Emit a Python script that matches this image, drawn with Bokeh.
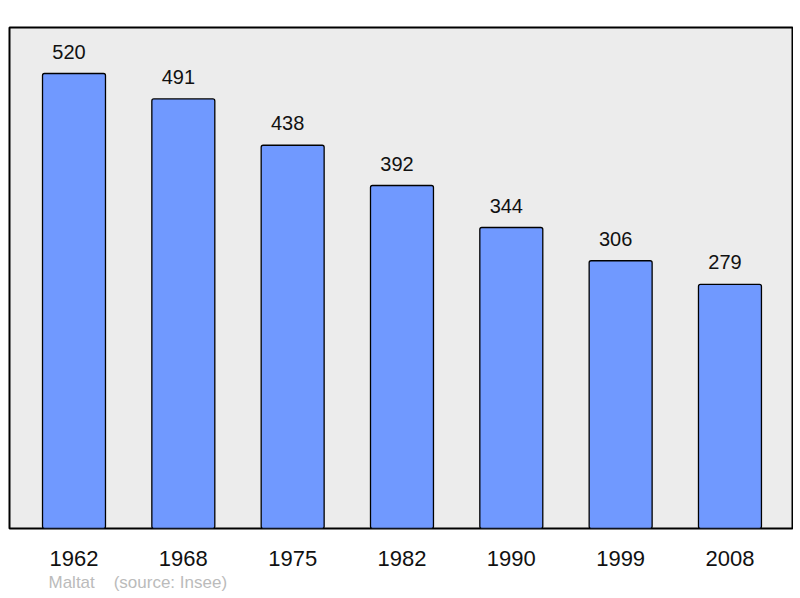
from bokeh.plotting import figure
from bokeh.models import ColumnDataSource, Range1d, FixedTicker, LinearAxis, Title
from bokeh.core.properties import value
from bokeh.embed import file_html
from bokeh.resources import INLINE

years = ["1962", "1968", "1975", "1982", "1990", "1999", "2008"]
population = [520, 491, 438, 392, 344, 306, 279]
commune = "Maltat"
source_note = "(source: Insee)"

idx = list(range(len(years)))
src = ColumnDataSource(dict(x=idx, top=population, label=[str(v) for v in population]))

FONT = "Liberation Sans"

p = figure(width=793, height=596, output_backend="svg", toolbar_location=None,
           x_range=Range1d(-0.59, 6.572), y_range=Range1d(0, 572.6),
           x_axis_location=None, y_axis_location=None,
           min_border_left=9, min_border_right=1, min_border_top=27, min_border_bottom=68)
p.background_fill_color = "#ececec"
p.border_fill_color = "white"
p.outline_line_color = "black"
p.outline_line_width = 2
p.xgrid.visible = False
p.ygrid.visible = False

p.vbar(x="x", top="top", bottom=0, width=0.576, source=src,
       fill_color="#7099ff", line_color="black", line_width=1.3, border_radius=2)

p.text(x="x", y="top", text="label", source=src, x_offset=-5, y_offset=-22,
       text_align="center", text_baseline="alphabetic",
       text_font=value(FONT), text_font_size="20px", text_color="#111111")

ax = LinearAxis(ticker=FixedTicker(ticks=idx),
                major_label_overrides={i: y for i, y in zip(idx, years)})
ax.axis_line_color = None
ax.major_tick_line_color = None
ax.minor_tick_line_color = None
ax.major_tick_out = 0
ax.major_tick_in = 0
ax.major_label_standoff = 22
ax.major_label_text_font = FONT
ax.major_label_text_font_size = "22px"
ax.major_label_text_color = "#111111"
p.add_layout(ax, "below")

footer = Title(text=commune + "\u00a0" * 4 + source_note, align="left", offset=39,
               text_font=FONT, text_font_size="17px", text_color="#bbbbbb",
               text_font_style="normal", standoff=5)
p.add_layout(footer, "below")

open("out.html", "w").write(file_html(p, INLINE))
